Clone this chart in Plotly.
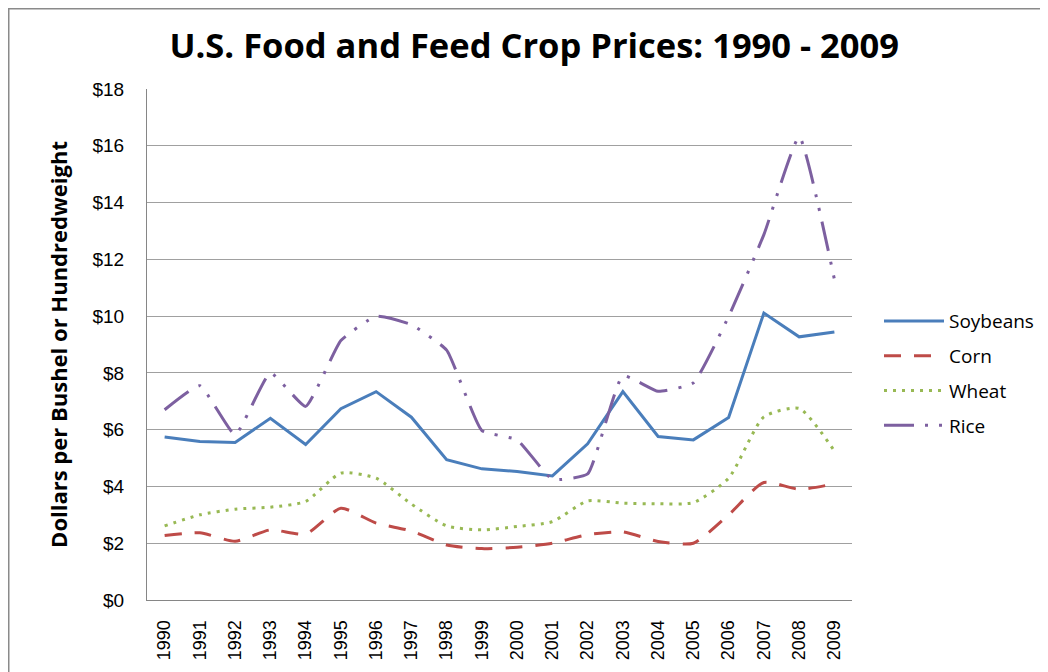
import plotly.graph_objects as go

years = [str(y) for y in range(1990, 2010)]
soybeans = [5.74, 5.58, 5.55, 6.40, 5.48, 6.74, 7.34, 6.44, 4.94, 4.62,
            4.53, 4.37, 5.50, 7.34, 5.76, 5.64, 6.43, 10.11, 9.27, 9.44]
corn = [2.27, 2.37, 2.07, 2.47, 2.32, 3.23, 2.71, 2.43, 1.94, 1.81,
        1.86, 2.00, 2.30, 2.40, 2.06, 2.00, 3.00, 4.14, 3.90, 4.09]
wheat = [2.61, 3.00, 3.20, 3.27, 3.47, 4.47, 4.29, 3.38, 2.61, 2.47,
         2.59, 2.76, 3.49, 3.41, 3.39, 3.43, 4.29, 6.45, 6.75, 5.25]
rice = [6.70, 7.55, 5.82, 8.00, 6.82, 9.14, 10.00, 9.70, 8.80, 5.97,
        5.64, 4.25, 4.44, 7.90, 7.35, 7.65, 9.99, 12.87, 16.32, 11.30]
y_ticks = [0, 2, 4, 6, 8, 10, 12, 14, 16, 18]
y_labels = ["$" + str(v) for v in y_ticks]

W, H = 1040, 664
L, R, T, B = 139, 196, 81, 72
pw, ph = W - L - R, H - T - B

fig = go.Figure()
fig.add_trace(go.Scatter(x=years, y=soybeans, name="Soybeans", mode="lines", legendgroup="a",
                         line=dict(color="#4A7EBB", width=3)))
fig.add_trace(go.Scatter(x=years, y=corn, name="Corn", mode="lines", legendgroup="b",
                         line=dict(color="#BE4B48", width=3, dash="17px,13px",
                                   shape="spline", smoothing=0.6)))
fig.add_trace(go.Scatter(x=years, y=wheat, name="Wheat", mode="lines", legendgroup="c",
                         line=dict(color="#98B954", width=3, dash="3px,6px",
                                   shape="spline", smoothing=0.6)))
fig.add_trace(go.Scatter(x=years, y=rice, name="Rice", mode="lines", legendgroup="d",
                         line=dict(color="#7D60A0", width=3,
                                   dash="30px,11px,3px,11px,3px,11px",
                                   shape="spline", smoothing=0.4)))

fig.update_layout(
    width=W, height=H,
    margin=dict(l=L, r=R, t=T, b=B),
    paper_bgcolor="white", plot_bgcolor="white",
    font=dict(family="Open Sans, Liberation Sans, sans-serif", color="#000"),
    title=dict(text="<b>U.S. Food and Feed Crop Prices: 1990 - 2009</b>",
               x=0.506, xanchor="center", y=0.943, yanchor="middle",
               font=dict(size=34.5, family="Open Sans, sans-serif", color="#000")),
    showlegend=True,
    legend=dict(xref="container", yref="container", x=0.8375, y=0.450,
                xanchor="left", yanchor="middle",
                font=dict(size=19, family="Open Sans, sans-serif"),
                tracegroupgap=7, itemwidth=60),
    xaxis=dict(type="category", tickangle=-90, showgrid=False,
               showline=True, linecolor="#868686", linewidth=1,
               ticks="", ticklabelstandoff=12,
               tickfont=dict(size=18, family="Liberation Sans, sans-serif"),
               range=[-0.5, 19.5]),
    yaxis=dict(range=[0, 18], tickvals=y_ticks, ticktext=y_labels,
               showgrid=True, gridcolor="#A0A0A0", gridwidth=1,
               showline=True, linecolor="#868686", linewidth=1,
               ticks="", ticklabelstandoff=18,
               tickfont=dict(size=19, family="Liberation Sans, sans-serif"),
               title=dict(text="<b>Dollars per Bushel or Hundredweight</b>",
                          font=dict(size=22, family="Open Sans, sans-serif"),
                          standoff=18),
               zeroline=False),
    shapes=[dict(type="rect", xref="paper", yref="paper",
                 x0=(0.5 - L) / pw, x1=(1080 - L) / pw,
                 y0=(T + ph - 700) / ph, y1=(T + ph - 0.5) / ph,
                 line=dict(color="#8A8A8A", width=2), fillcolor="rgba(0,0,0,0)",
                 layer="below")],
)

fig.write_html("out.html")
